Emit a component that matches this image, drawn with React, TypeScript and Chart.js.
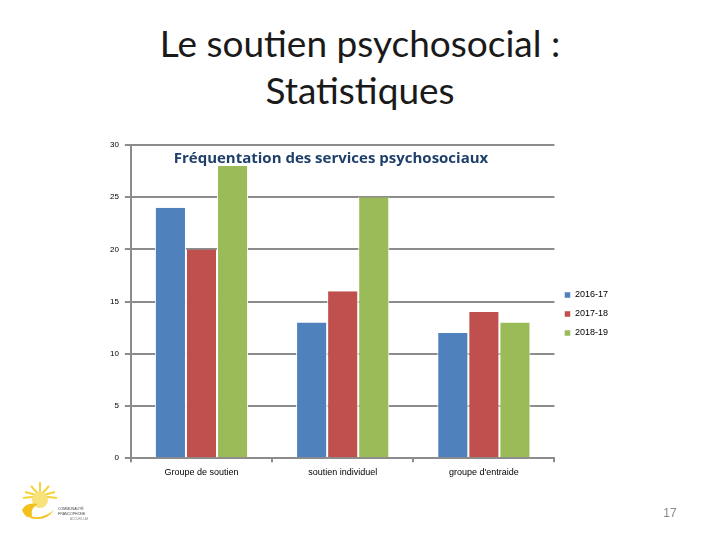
import React, { useEffect, useRef } from "react";
import { Chart, registerables } from "chart.js";

Chart.register(...registerables);

const categories = ["Groupe de soutien", "soutien individuel", "groupe d'entraide"];
const seriesLabels = ["2016-17", "2017-18", "2018-19"];
const values2016 = [24, 13, 12];
const values2017 = [20, 16, 14];
const values2018 = [28, 25, 13];
const seriesColors = ["#4F81BD", "#C0504D", "#9BBB59"];
const yTicks = [0, 5, 10, 15, 20, 25, 30];

export default function App() {
  const ref = useRef<HTMLCanvasElement | null>(null);

  useEffect(() => {
    if (!ref.current) return;
    const seriesValues = [values2016, values2017, values2018];
    const chart = new Chart(ref.current, {
      type: "bar",
      data: {
        labels: categories,
        datasets: seriesLabels.map((label, i) => ({
          label,
          data: seriesValues[i],
          backgroundColor: seriesColors[i],
          borderColor: "#ffffff",
          borderWidth: { left: 1, right: 1, top: 0, bottom: 0 },
          borderSkipped: false,
          barPercentage: 1,
          categoryPercentage: 0.66,
        })),
      },
      options: {
        animation: false,
        responsive: false,
        devicePixelRatio: 1,
        layout: { padding: { left: 104, right: 102, top: 145, bottom: 57 } },
        plugins: {
          title: { display: false },
          tooltip: { enabled: false },
          legend: {
            position: "right",
            align: "center",
            labels: {
              boxWidth: 6,
              boxHeight: 6,
              padding: 10,
              color: "#000000",
              font: { family: "Liberation Sans", size: 9 },
            },
          },
        },
        scales: {
          x: {
            grid: {
              display: true,
              drawOnChartArea: false,
              drawTicks: true,
              tickLength: 4,
              color: "#8c8c8c",
              lineWidth: 2,
              offset: true,
            },
            border: { display: true, color: "#8c8c8c", width: 2 },
            ticks: {
              color: "#000000",
              font: { family: "Liberation Sans", size: 9 },
              padding: 5,
              maxRotation: 0,
            },
          },
          y: {
            min: 0,
            max: 30,
            afterBuildTicks: (axis: any) => {
              axis.ticks = yTicks.map((v) => ({ value: v }));
            },
            grid: {
              color: "#8c8c8c",
              lineWidth: 2,
              tickLength: 6,
            },
            border: { display: true, color: "#8c8c8c", width: 2 },
            ticks: {
              color: "#000000",
              font: { family: "Liberation Sans", size: 8 },
              padding: 6,
            },
          },
        },
      },
    });
    return () => chart.destroy();
  }, []);

  return (
    <div style={{ position: "absolute", left: 0, top: 0, width: 720, height: 540, background: "#fff", overflow: "hidden" }}>
      <div
        style={{
          position: "absolute",
          left: 0,
          top: 19,
          width: 720,
          textAlign: "center",
          fontFamily: "Lato, 'Open Sans', sans-serif",
          fontSize: 37,
          lineHeight: "47px",
          color: "#1a1a1a",
        }}
      >
        Le soutien psychosocial :<br />Statistiques
      </div>
      <canvas ref={ref} width={720} height={540} style={{ position: "absolute", left: 0, top: 0 }} />
      <div
        style={{
          position: "absolute",
          left: 130,
          width: 402,
          top: 147,
          textAlign: "center",
          fontFamily: "'Open Sans', 'Noto Sans', sans-serif",
          fontWeight: "bold",
          fontSize: 15,
          color: "#1F3F6B",
        }}
      >
        Fréquentation des services psychosociaux
      </div>
      <svg style={{ position: "absolute", left: 18, top: 480 }} width="70" height="45" viewBox="0 0 70 45">
        <g stroke="#F5D33A" strokeWidth="2">
          <line x1="22" y1="16" x2="22" y2="2" />
          <line x1="22" y1="16" x2="13" y2="6" />
          <line x1="22" y1="16" x2="31" y2="6" />
          <line x1="22" y1="16" x2="7" y2="12" />
          <line x1="22" y1="16" x2="37" y2="12" />
          <line x1="22" y1="16" x2="5" y2="18" />
          <line x1="22" y1="16" x2="39" y2="18" />
        </g>
        <circle cx="22" cy="20" r="8" fill="#F7E37A" />
        <path d="M4 30 Q8 22 20 24 Q12 28 14 36 Q8 40 4 30 Z" fill="#F2C21B" />
        <path d="M12 36 Q24 40 36 30 Q28 42 12 38 Z" fill="#F2C21B" />
        <text x="40" y="30" fontSize="3.5" fill="#444" fontFamily="Liberation Sans">COMMUNAUTÉ</text>
        <text x="40" y="35" fontSize="3.5" fill="#444" fontFamily="Liberation Sans">FRANCOPHONE</text>
        <text x="52" y="40" fontSize="3" fill="#888" fontFamily="Liberation Sans">ACCUEILLANTE</text>
      </svg>
      <div
        style={{
          position: "absolute",
          left: 655,
          top: 506,
          width: 30,
          textAlign: "center",
          fontFamily: "Liberation Sans, sans-serif",
          fontSize: 12,
          color: "#888",
        }}
      >
        17
      </div>
    </div>
  );
}
